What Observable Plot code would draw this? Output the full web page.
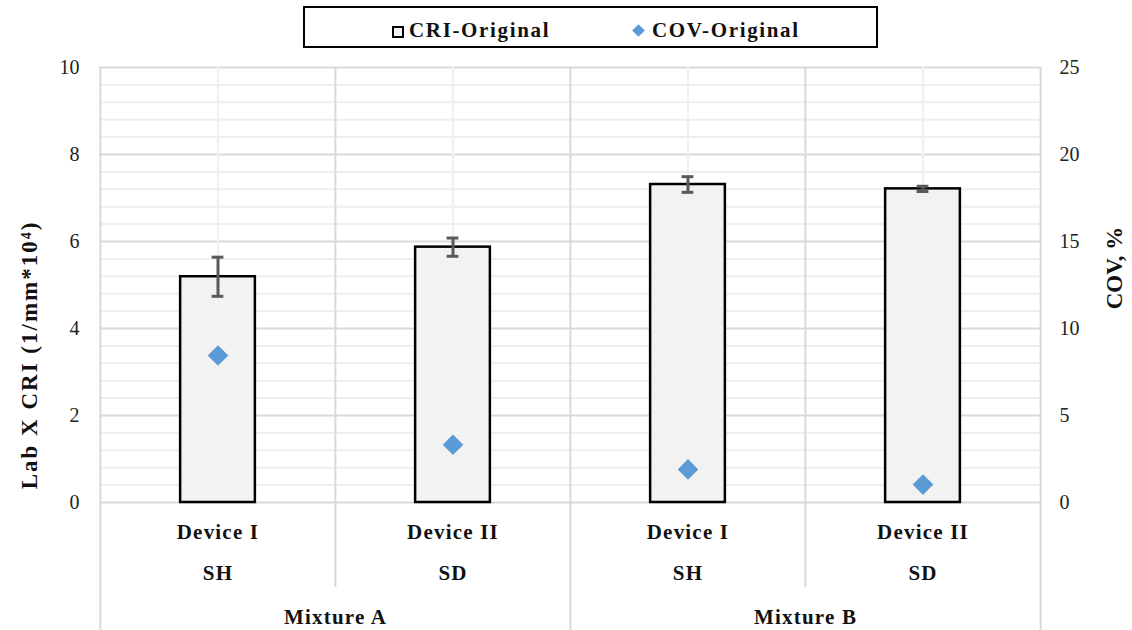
<!DOCTYPE html>
<html>
<head>
<meta charset="utf-8">
<script src="https://cdn.jsdelivr.net/npm/d3@7"></script>
<script src="https://cdn.jsdelivr.net/npm/@observablehq/plot@0.6"></script>
<style>
  body { margin: 0; background: #fff; font-family: "Liberation Serif", serif; }
  #wrap { position: relative; width: 1132px; height: 630px; overflow: hidden; }
  #legend { position: relative; width: 1132px; height: 55px; }
  #legendBox { position: absolute; left: 303px; top: 6px; width: 571px; height: 38px; border: 2px solid #000; }
  .lg { position: absolute; font-family: "Liberation Serif", serif; font-weight: bold; font-size: 21px; line-height: 21px; color: #111; letter-spacing: 1.65px; white-space: nowrap; }
  .sq { position: absolute; width: 8px; height: 8px; border: 2px solid #000; background: #f2f2f2; }
  .dm { position: absolute; width: 9px; height: 9px; background: #5b9bd5; transform: rotate(45deg); }
</style>
</head>
<body>
<div id="wrap">
  <div id="legend"></div>
  <div id="chart"></div>
</div>
<script>
// ---- data ----
const categories = ["Device I", "Device II", "Device I", "Device II"];
const specimens  = ["SH", "SD", "SH", "SD"];
const mixtures   = ["Mixture A", "Mixture A", "Mixture B", "Mixture B"];
const criMean    = [5.19, 5.87, 7.31, 7.21];
const criErr     = [0.45, 0.21, 0.18, 0.06];
const covValues  = [8.45, 3.32, 1.9, 1.03];
const leftTicks  = [0, 2, 4, 6, 8, 10];
const rightTicks = [0, 5, 10, 15, 20, 25];
const seriesNames = ["CRI-Original", "COV-Original"];
const leftTitle  = "Lab X CRI (1/mm*10⁴)";
const rightTitle = "COV, %";

// ---- layout ----
const FONT = '"Liberation Serif", serif';
const W = 1132, H = 575;
const mL = 99, mR = 92, mT = 12, mB = 128;
const leftMax = leftTicks[leftTicks.length - 1];
const rightMax = rightTicks[rightTicks.length - 1];
const ratio = leftMax / rightMax;          // maps COV onto left scale
const minorTicks = d3.range(0, leftMax + 1e-9, (leftTicks[1] - leftTicks[0]) / 5)
  .map(v => +v.toFixed(4)).filter(v => !leftTicks.includes(v));

const keys = categories.map((c, i) => mixtures[i] + " | " + c);
const rows = keys.map((k, i) => ({
  key: k, device: categories[i], spec: specimens[i], mix: mixtures[i],
  cri: criMean[i], lo: criMean[i] - criErr[i], hi: criMean[i] + criErr[i], cov: covValues[i],
  mixStart: i === 0 || mixtures[i] !== mixtures[i - 1]
}));
const bw = (W - mL - mR) / keys.length;
const barW = 75, capW = 12;
const mixFirst = rows.filter(r => r.mixStart);
const lastRow = [rows[rows.length - 1]];

const txt = {fontFamily: FONT, fontWeight: "bold", fill: "#111", lineAnchor: "middle"};

const plot = Plot.plot({
  width: W, height: H,
  marginLeft: mL, marginRight: mR, marginTop: mT, marginBottom: mB,
  style: {fontFamily: FONT, background: "transparent", overflow: "visible"},
  x: {domain: keys, padding: 0, axis: null},
  y: {domain: [0, leftMax], axis: null},
  marks: [
    // minor & major horizontal gridlines
    Plot.ruleY(minorTicks, {stroke: "#eeeeee", strokeWidth: 2}),
    Plot.ruleY(leftTicks, {stroke: "#d9d9d9", strokeWidth: 2}),
    // faint vertical lines at category centres
    Plot.ruleX(rows, {x: "key", stroke: "#f0f0f0", strokeWidth: 2}),
    // category boundary lines, extending into the label area
    Plot.ruleX(rows.filter(r => r.mixStart), {x: "key", dx: -bw / 2, stroke: "#d9d9d9", strokeWidth: 2, insetBottom: -128}),
    Plot.ruleX(rows.filter(r => !r.mixStart), {x: "key", dx: -bw / 2, stroke: "#d9d9d9", strokeWidth: 2, insetBottom: -85}),
    Plot.ruleX(lastRow, {x: "key", dx: bw / 2, stroke: "#d9d9d9", strokeWidth: 2, insetBottom: -128}),
    // bars
    Plot.barY(rows, {x: "key", y: "cri", fill: "#f2f2f2", stroke: "#000", strokeWidth: 2.5,
      insetLeft: (bw - barW) / 2, insetRight: (bw - barW) / 2}),
    // error bars
    Plot.ruleX(rows, {x: "key", y1: "lo", y2: "hi", stroke: "#595959", strokeWidth: 3}),
    Plot.tickY(rows, {x: "key", y: "lo", stroke: "#595959", strokeWidth: 3,
      insetLeft: (bw - capW) / 2, insetRight: (bw - capW) / 2}),
    Plot.tickY(rows, {x: "key", y: "hi", stroke: "#595959", strokeWidth: 3,
      insetLeft: (bw - capW) / 2, insetRight: (bw - capW) / 2}),
    // COV diamonds (secondary axis mapped onto the primary scale)
    Plot.dot(rows, {x: "key", y: d => d.cov * ratio, symbol: "diamond2", r: 9.3, fill: "#5b9bd5", stroke: null}),
    // axes
    Plot.axisY({anchor: "left", ticks: leftTicks, tickSize: 0, tickPadding: 20, fontSize: 20, fontFamily: FONT,
      fill: "#222", label: null}),
    Plot.axisY({anchor: "right", ticks: rightTicks.map(v => v * ratio), tickFormat: v => String(Math.round(v / ratio)),
      tickSize: 0, tickPadding: 19, fontSize: 20, fontFamily: FONT, fill: "#222", label: null}),
    // bottom category labels
    Plot.text(rows, {x: "key", y: 0, text: "device", dy: 30, fontSize: 21, ...txt, className: "catlab"}),
    Plot.text(rows, {x: "key", y: 0, text: "spec", dy: 71, fontSize: 21, ...txt, className: "catlab"}),
    Plot.text(mixFirst, {x: "key", y: 0, text: "mix", dx: bw / 2, dy: 115, fontSize: 21, ...txt, className: "catlab"}),
    // axis titles
    Plot.text([leftTitle], {frameAnchor: "left", textAnchor: "middle", text: d => d, rotate: -90, dx: -70, dy: 70,
      fontSize: 23, ...txt, className: "ltitle"}),
    Plot.text([rightTitle], {frameAnchor: "right", textAnchor: "middle", text: d => d, rotate: -90, dx: 74, dy: -17,
      fontSize: 23, ...txt})
  ]
});
document.getElementById("chart").appendChild(plot);

// letter spacing for the condensed-looking bold labels
plot.querySelectorAll("text").forEach(t => {
  const s = t.textContent;
  if (categories.includes(s) || specimens.includes(s) || mixtures.includes(s)) t.setAttribute("letter-spacing", "1.2");
  if (s === leftTitle) t.setAttribute("letter-spacing", "2");
});

// ---- legend (HTML) ----
const lg = document.getElementById("legend");
lg.innerHTML = `
  <div id="legendBox"></div>
  <div class="sq" style="left:392px; top:26px;"></div>
  <div class="lg" style="left:409px; top:20px;">${seriesNames[0]}</div>
  <div class="dm" style="left:634px; top:26px;"></div>
  <div class="lg" style="left:652px; top:20px;">${seriesNames[1]}</div>`;
</script>
</body>
</html>
